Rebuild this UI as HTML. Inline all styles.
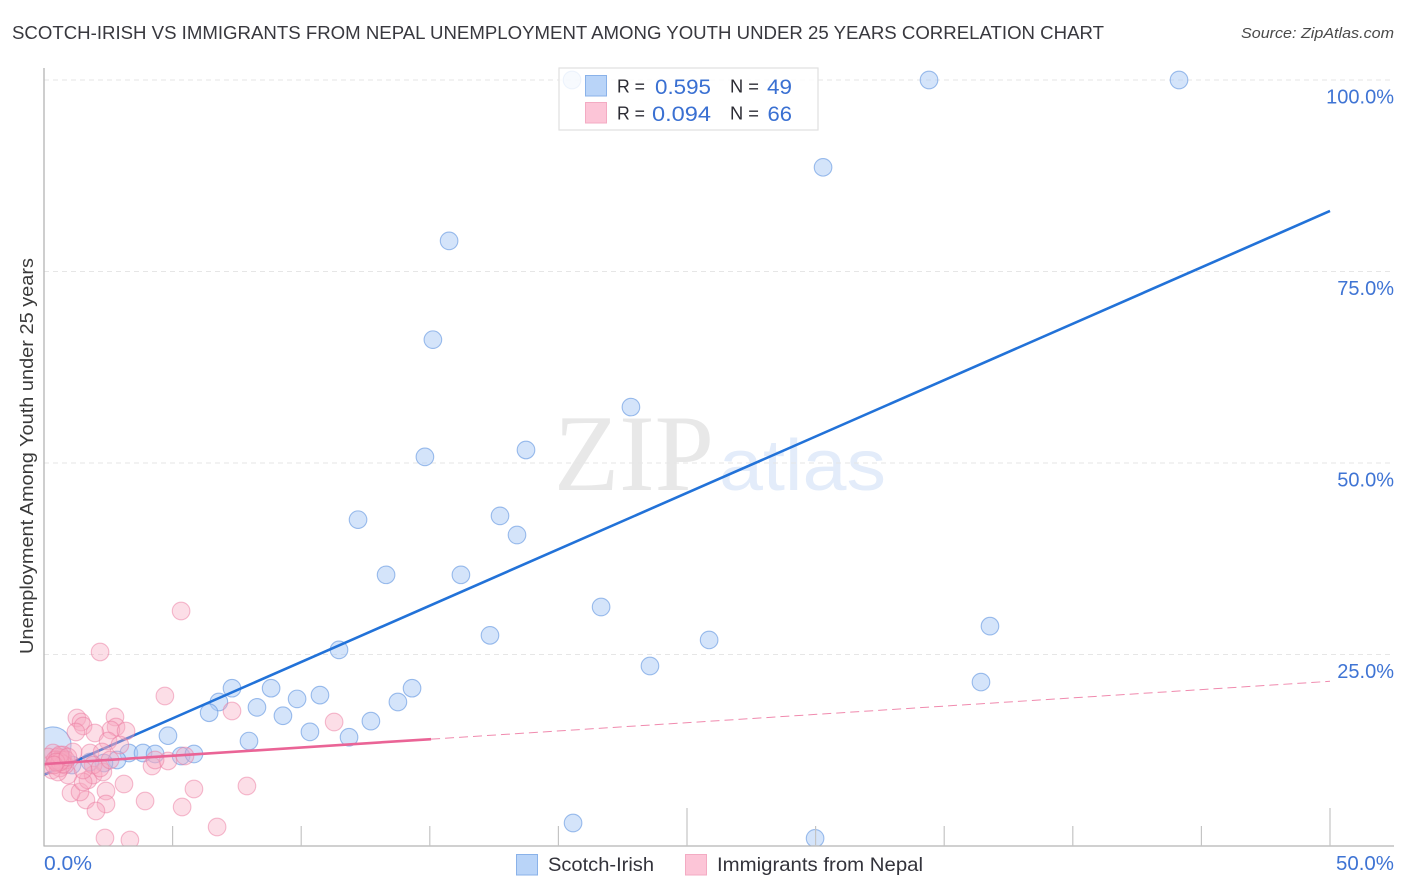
<!DOCTYPE html>
<html lang="en">
<head>
<meta charset="utf-8">
<title>Scotch-Irish vs Immigrants from Nepal correlation chart</title>
<style>
html,body{margin:0;padding:0;background:#fff;width:1406px;height:892px;overflow:hidden}
svg{display:block;font-family:"Liberation Sans",sans-serif}
</style>
</head>
<body>
<svg id="chart" width="1406" height="892" viewBox="0 0 1406 892" xmlns="http://www.w3.org/2000/svg">
  <defs>
    <clipPath id="plot-clip"><rect x="44" y="55" width="1350" height="791"/></clipPath>
  </defs>
  <text x="12" y="39" font-size="18.5" fill="#38383e" textLength="1092" lengthAdjust="spacingAndGlyphs">SCOTCH-IRISH VS IMMIGRANTS FROM NEPAL UNEMPLOYMENT AMONG YOUTH UNDER 25 YEARS CORRELATION CHART</text>
  <text x="1394" y="38" font-size="15" font-style="italic" fill="#4a4a4a" text-anchor="end" textLength="153" lengthAdjust="spacingAndGlyphs">Source: ZipAtlas.com</text>
  <text transform="translate(33,456) rotate(-90)" font-size="18.5" fill="#3a3a3a" text-anchor="middle" textLength="396" lengthAdjust="spacingAndGlyphs">Unemployment Among Youth under 25 years</text>
  <text x="554" y="490" font-family="'Liberation Serif',serif" font-size="109" fill="#e8e8e8" textLength="160" lengthAdjust="spacingAndGlyphs">ZIP</text>
  <text x="719" y="490" font-size="72" fill="#e3ecfa" textLength="167" lengthAdjust="spacingAndGlyphs">atlas</text>
  <g id="grid"></g>
  <g id="y-labels"></g>
  <g clip-path="url(#plot-clip)">
    <g id="blue-points"></g>
    <line id="blue-trend" stroke="#2272d8" stroke-width="2.6"/>
    <g id="pink-points"></g>
    <line id="pink-trend-dash" stroke="#f08aae" stroke-width="1" stroke-dasharray="9 5"/>
    <line id="pink-trend" stroke="#ea6496" stroke-width="2.6"/>
  </g>
  <g id="axes">
    <line x1="44" y1="68" x2="44" y2="846.5" stroke="#b4b4b4" stroke-width="1.3"/>
    <line x1="44" y1="846" x2="1394" y2="846" stroke="#b4b4b4" stroke-width="1.3"/>
  </g>
  <g id="x-ticks"></g>
  <g id="x-labels"></g>
  <g>
    <rect x="559" y="68" width="259" height="62" fill="#fff" fill-opacity="0.82" stroke="#e0e0e0" stroke-width="1.2"/>
    <rect x="585.5" y="75.5" width="21" height="20.5" fill="#b9d4f8" stroke="#8ab2e9" stroke-width="1"/>
    <rect x="585.5" y="102.5" width="21" height="20.5" fill="#fcc5d7" stroke="#f3abc3" stroke-width="1"/>
    <text x="617" y="92.5" font-size="18" fill="#2c2c34" textLength="28" lengthAdjust="spacingAndGlyphs">R =</text>
    <text x="655" y="94" font-size="21.5" fill="#3a70d2" textLength="56" lengthAdjust="spacingAndGlyphs">0.595</text>
    <text x="730" y="92.5" font-size="18" fill="#2c2c34" textLength="29" lengthAdjust="spacingAndGlyphs">N =</text>
    <text x="767" y="94" font-size="21.5" fill="#3a70d2" textLength="25" lengthAdjust="spacingAndGlyphs">49</text>
    <text x="617" y="119.5" font-size="18" fill="#2c2c34" textLength="28" lengthAdjust="spacingAndGlyphs">R =</text>
    <text x="652" y="121" font-size="21.5" fill="#3a70d2" textLength="59" lengthAdjust="spacingAndGlyphs">0.094</text>
    <text x="730" y="119.5" font-size="18" fill="#2c2c34" textLength="29" lengthAdjust="spacingAndGlyphs">N =</text>
    <text x="767.5" y="121" font-size="21.5" fill="#3a70d2" textLength="24.5" lengthAdjust="spacingAndGlyphs">66</text>
  </g>
  <g>
    <rect x="516.5" y="854.5" width="21" height="20.5" fill="#b9d4f8" stroke="#8ab2e9" stroke-width="1"/>
    <text x="548" y="871" font-size="19.5" fill="#33333b" textLength="106" lengthAdjust="spacingAndGlyphs">Scotch-Irish</text>
    <rect x="685.5" y="854.5" width="21" height="20.5" fill="#fcc5d7" stroke="#f3abc3" stroke-width="1"/>
    <text x="717" y="871" font-size="19.5" fill="#33333b" textLength="206" lengthAdjust="spacingAndGlyphs">Immigrants from Nepal</text>
  </g>
</svg>
<script>
const blueX = [20.53,34.41,44.13,30.29,15.75,15.12,22.82,18.74,14.81,12.21,17.73,18.39,13.30,16.21,21.66,17.34,25.86,36.78,23.56,36.43,11.47,7.31,8.83,14.31,10.73,9.84,6.80,13.76,8.28,6.42,9.29,12.71,10.34,11.86,4.82,7.97,20.57,29.98,3.30,3.85,4.32,5.33,5.83,2.84,2.33,1.79,1.09,0.35,0.70];
const blueY = [100,100,100,88.6,79.0,66.1,57.3,51.7,50.8,42.6,43.1,40.6,35.4,35.4,31.2,27.5,26.9,28.7,23.5,21.4,25.6,20.6,20.6,20.6,19.7,19.2,18.8,18.8,18.1,17.4,17.0,16.3,14.9,14.2,14.4,13.7,3.0,1.0,12.14,12.14,12.01,11.75,12.01,11.23,10.84,10.97,10.57,13.19,11.49];
const blueWeight = [1,1,1,1,1,1,1,1,1,1,1,1,1,1,1,1,1,1,1,1,1,1,1,1,1,1,1,1,1,1,1,1,1,1,1,1,1,1,1,1,1,1,1,1,1,1,1,4.2,1];
const pinkX = [2.18,4.70,7.31,5.33,11.28,7.89,6.73,5.83,5.37,3.93,3.11,2.41,2.41,1.63,2.02,1.05,1.40,2.37,3.34,1.28,1.44,1.52,2.76,2.80,2.60,3.19,1.98,1.24,2.49,2.95,1.79,2.26,4.82,4.20,4.32,5.48,1.71,1.91,2.29,1.52,0.93,0.62,0.23,0.35,0.70,1.13,0.51,0.82,0.16,0.31,0.54,0.74,1.91,2.18,1.52,0.54,0.70,0.43,0.86,0.74,0.62,0.62,0.47,0.39,0.93,2.57];
const pinkY = [25.33,19.58,17.62,30.68,16.19,7.83,2.48,7.44,5.09,5.87,8.09,7.18,5.48,6.01,4.57,6.92,7.05,1.04,0.78,16.71,16.19,15.67,16.84,15.54,15.14,15.01,14.75,14.88,13.71,13.19,12.14,12.27,11.10,10.44,11.23,11.75,8.62,9.27,9.66,8.36,9.27,10.18,10.57,12.14,11.49,12.27,10.84,10.57,11.62,9.92,9.66,11.88,10.57,10.18,9.92,11.62,11.23,11.23,11.23,10.70,10.97,11.88,10.97,10.57,11.62,11.23];
const blueTrendX = [0,50];
const blueTrendY = [9.3,82.9];
const pinkTrendX = [0,15.05];
const pinkTrendY = [10.7,13.95];
const pinkDashX = [15.05,50];
const pinkDashY = [13.95,21.5];
const yTicks = [100,75,50,25];
const yTickLabels = ["100.0%","75.0%","50.0%","25.0%"];
const xMinorTicks = [5,10,15,20,30,35,40,45];
const xMajorTicks = [25,50];
const xTickLabels = ["0.0%","50.0%"];

const NS = 'http://www.w3.org/2000/svg';
const xScale = v => 44 + v * 25.72;
const yScale = v => 846 - v * 7.66;
const BASE_R = 8.8;

function make(parent, tag, attrs) {
  const el = document.createElementNS(NS, tag);
  for (const k in attrs) el.setAttribute(k, attrs[k]);
  parent.appendChild(el);
  return el;
}

const grid = document.getElementById('grid');
const yLabels = document.getElementById('y-labels');
yTicks.forEach((t, i) => {
  const g = make(grid, 'line', {x1:44, x2:1394, y1:yScale(t), y2:yScale(t), stroke:'#e6e6e6', 'stroke-width':1, 'stroke-dasharray':'5 4'});
  
  
  const l = make(yLabels, 'text', {x:1394, y:yScale(t) + 23.5, 'font-size':20, fill:'#3f74d4', 'text-anchor':'end'});
  
  
  l.textContent = yTickLabels[i];
});

const xTicksG = document.getElementById('x-ticks');
xMinorTicks.forEach(t => {
  const m = make(xTicksG, 'line', {x1:xScale(t), x2:xScale(t), y1:826, y2:846, stroke:'#c4c4c4', 'stroke-width':1.2});
  
  
});
xMajorTicks.forEach(t => {
  const m = make(xTicksG, 'line', {x1:xScale(t), x2:xScale(t), y1:808, y2:846, stroke:'#c4c4c4', 'stroke-width':1.2});
  
  
});

const xLabelsG = document.getElementById('x-labels');
const xl0 = make(xLabelsG, 'text', {x:44, y:870, 'font-size':20, fill:'#3f74d4', textLength:48, lengthAdjust:'spacingAndGlyphs'});


xl0.textContent = xTickLabels[0];
const xl1 = make(xLabelsG, 'text', {x:1336, y:870, 'font-size':20, fill:'#3f74d4', textLength:58, lengthAdjust:'spacingAndGlyphs'});


xl1.textContent = xTickLabels[1];

const blueG = document.getElementById('blue-points');
blueX.forEach((v, i) => {
  const c = make(blueG, 'circle', {cx:xScale(v), cy:yScale(blueY[i]), r:BASE_R * Math.sqrt(blueWeight[i]), fill:'#a9caf5', 'fill-opacity':0.5, stroke:'#6a9be2', 'stroke-opacity':0.65, 'stroke-width':1.1});
  
  
});

const pinkG = document.getElementById('pink-points');
pinkX.forEach((v, i) => {
  const c = make(pinkG, 'circle', {cx:xScale(v), cy:yScale(pinkY[i]), r:BASE_R, fill:'#f8a9c0', 'fill-opacity':0.38, stroke:'#ec7aa0', 'stroke-opacity':0.5, 'stroke-width':1.1});
  
  
});

function setLine(id, xs, ys) {
  const l = document.getElementById(id);
  l.setAttribute('x1', xScale(xs[0]));
  l.setAttribute('x2', xScale(xs[1]));
  l.setAttribute('y1', yScale(ys[0]));
  l.setAttribute('y2', yScale(ys[1]));
}
setLine('blue-trend', blueTrendX, blueTrendY);
setLine('pink-trend', pinkTrendX, pinkTrendY);
setLine('pink-trend-dash', pinkDashX, pinkDashY);
</script>
</body>
</html>
